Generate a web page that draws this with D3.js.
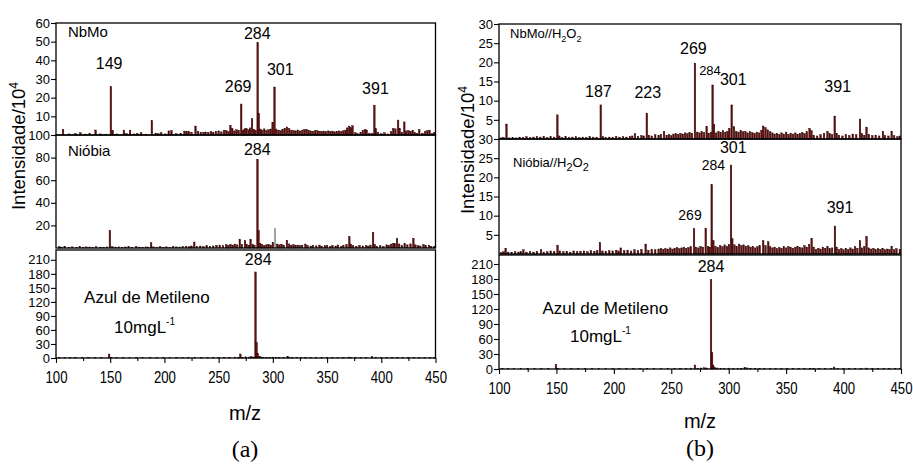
<!DOCTYPE html>
<html>
<head>
<meta charset="utf-8">
<script src="https://cdn.jsdelivr.net/npm/d3@7/dist/d3.min.js"></script>
<style>
  body { margin: 0; background: #fff; }
  text { font-family: "Liberation Sans", Arial, sans-serif; fill: #000; }
  .axis path { display: none; }
  .axis line { stroke: #000; stroke-width: 1.1; }
</style>
</head>
<body>
<div id="chart"></div>
<script>
// ---- data: [m/z, intensity] ----
var nbmoPeaks = [[106.5,3],[112,0.6],[118,0.8],[122.5,1.2],[127,0.5],[131,0.7],[136.5,2.7],[141,0.6],[146,0.5],[150.6,26],[152.3,2.3],[156,0.6],[162.6,2.6],[165,0.8],[168.3,2.6],[172,0.6],[175,0.8],[178.5,1.2],[183,0.5],[188.4,7.8],[192,1],[194.5,0.7],[197,1.2],[201,0.6],[204,2.2],[206.5,2.4],[211,0.7],[215,0.9],[218.5,2.1],[220.5,2],[222.5,1.8],[225,1.5],[228.7,4.8],[231,2],[233.5,1.3],[236,1.5],[238,1.6],[240.5,1.4],[243,1.8],[245,1.5],[247.5,1.9],[250,2.2],[252.5,1.7],[255,2.6],[257,2.4],[259,1.8],[260.8,5.2],[262.5,3.6],[264.5,2.2],[266.5,2.8],[268.5,2.4],[270.8,16.6],[272.5,2.5],[274,3.3],[275.5,3.6],[277.5,2.8],[279,3.8],[280.8,8.7],[282.5,3],[284,2.6],[286,49.4],[287,11.6],[288.5,3.2],[290,2.6],[292,3.3],[294,2.4],[296,2.8],[298,3.2],[299.8,6.8],[301.5,25.7],[303,3.2],[305,2.6],[307,2.3],[309,2.8],[311,3.6],[313,4.3],[315,3.5],[317,2.6],[319,2.4],[321,2.2],[323,2.7],[325,2.2],[327,2.6],[329,2.9],[331,3.1],[333,2.5],[335,2.2],[337,2],[339,2.5],[341,2.3],[343,2],[345,1.9],[347,2.1],[349,1.8],[351,2.2],[353,1.9],[355,2.1],[357,1.7],[359,2],[361,2.2],[363,1.8],[365,2.3],[367,2.6],[368.5,3.8],[370.3,4.8],[372,3.9],[373.5,5],[376,1.2],[378,0.8],[381,1.5],[383,2.6],[385,3],[386.5,2.7],[389,1],[391.5,0.8],[393.6,16],[395,3.4],[397,1.5],[400,0.7],[403,1.2],[406,0.6],[409,1.8],[411,3.5],[413,3.3],[415.5,8],[417,3.5],[419,1.5],[421.2,7],[423,2.2],[425,2.4],[427,2],[429,2.5],[431,1.3],[433,0.9],[435,3],[438,1],[440.5,2],[442.5,2.3],[444.5,2.6],[447,0.8],[449,1.5]];

var niobiaPeaks = [[103,1.2],[105,0.8],[108,1.5],[112,0.7],[115,1],[119,0.6],[122,1.3],[125,0.8],[128,1],[131,0.9],[134,0.7],[137,1.1],[141,0.8],[144,0.6],[147,1],[149.7,15.6],[152,1.2],[155,0.8],[158,1],[161,0.7],[164,0.9],[167,1.1],[170,0.6],[174,1.4],[177,0.8],[180,0.7],[183,1],[185,0.8],[187.7,4.7],[190,1],[193,0.8],[196,1.2],[199,0.6],[202,1],[205,0.8],[208,1.4],[211,1],[214,0.9],[217,1.2],[220,1.6],[223,1.1],[225,1.8],[227.5,5.3],[230,1.4],[233,1.7],[236,1.2],[239,2],[242,1.5],[245,1.8],[248,2.4],[251,2.6],[254,2],[257,3],[259,2.4],[261,3.2],[263,2.6],[265,3.5],[267,2.8],[269.5,7.7],[271.5,3],[274.3,6.6],[276,3.2],[278,2.5],[279.5,7.3],[281.5,3],[283,2.5],[285.8,78.5],[286.8,15.6],[288.3,4.2],[290,3],[292,2.2],[294,2.8],[296,3.3],[298,2.6],[300,5],[304,3.5],[306,2.8],[308,3.4],[310,2.5],[313,6.8],[315,3.6],[317,2.4],[319,3],[321,2],[323,2.6],[325,2.2],[327,2.5],[330,3.5],[332,2.2],[335,1.8],[337,2.4],[340,1.9],[343,2.6],[345,1.6],[348,2],[350,2.4],[353,1.5],[355,2.2],[358,1.8],[360,2.7],[363,1.4],[365,2.5],[368,3],[370.5,10.2],[372,3.5],[374,2.2],[377,1.6],[380,2.4],[383,1.8],[386,2.2],[388,1.7],[390,2.6],[392.4,14],[394,3],[396,1.5],[399,2.2],[402,1.3],[405,2.8],[407,2.4],[409,3.5],[411,4],[412.5,3.8],[414.5,8.4],[416.5,3.6],[419,2.2],[421.6,4],[424,2.8],[427,3.6],[429.6,8.6],[431.5,2.8],[434,2],[436,1.8],[439,3],[441,2],[444,2.6],[446,1.5],[449,1.6]];
var niobiaGrey = [[302,17.6]];

var azulPeaksA = [[103,0.8],[108,1.2],[113,0.6],[118,0.9],[124,0.7],[130,1],[136,0.6],[142,0.8],[149,8.5],[151,1.5],[156,0.7],[162,0.9],[168,0.6],[174,1],[180,0.7],[187,1.3],[193,0.6],[199,0.9],[205,0.7],[211,1],[217,0.8],[222,1.2],[228,1.4],[234,0.9],[240,1.1],[245,1.3],[250,1],[255,1.6],[260,1.4],[265,2],[268,1.5],[270,8.5],[272,1.8],[275,2.5],[278,2],[280,3],[282,2.2],[284,184],[285,33],[286,10],[287.5,4],[289,2.5],[291,1.8],[294,1.5],[297,1.3],[300,2],[303,1.6],[306,1.2],[310,1.5],[313.6,3.2],[315,2],[318,1.2],[322,1],[326,1.4],[330,1.1],[335,0.9],[340,1.2],[345,0.8],[350,1],[355,1.1],[360,0.8],[365,1],[370,2],[372,1.5],[376,0.9],[381,0.8],[386,1.1],[391.5,3],[395,1],[400,0.8],[405,1],[410,0.9],[415,1.3],[420,1.2],[425,0.8],[430,1.4],[435,0.7],[440,1],[445,0.8],[449,0.9]];

var nbmoH2O2Peaks = [[102,0.3],[104,0.4],[106.5,3.9],[109,0.3],[112,0.4],[115,0.3],[118,0.5],[121,0.4],[124,0.6],[127,0.4],[130,0.5],[133,0.6],[136,0.5],[139,0.7],[142,0.4],[145,0.6],[148,0.5],[150.8,6.3],[152.5,0.8],[155,0.4],[158,0.6],[161,0.4],[164,0.5],[167,0.6],[170,0.4],[173,0.5],[176,0.4],[179,0.6],[182,0.5],[185,0.4],[188.6,8.9],[190.5,0.6],[193,0.4],[196,0.5],[199,0.4],[202,0.7],[205,0.5],[208,0.6],[211,0.5],[214,0.7],[216,0.8],[218.4,1.4],[221,0.7],[224,0.9],[226,0.8],[228.7,6.7],[230.5,1],[233,0.8],[236,1.1],[239,0.9],[241,1.2],[243.7,2],[246,1],[248,1.2],[250,0.9],[252,1.3],[254,1.4],[256,1.2],[258,1.5],[260,1.3],[262,1.6],[264,1.4],[266,1.7],[268,1.5],[270.6,19.8],[272.5,1.8],[274.5,1.6],[276.5,1.9],[278.5,1.7],[280.8,3.3],[282.5,1.5],[284.5,1.8],[286,14.1],[287.2,3.8],[289,1.6],[291,2],[293,1.7],[295,2.2],[297,1.8],[299,2],[300.5,2.8],[302.6,8.9],[304.6,3.2],[306.5,2],[308.5,1.8],[310.5,2.2],[312.5,1.9],[314.5,2],[316.5,1.6],[318.5,1.9],[320.5,1.7],[322.5,1.5],[324.5,1.8],[326.5,1.6],[328.5,2.3],[330,3.4],[332,3],[334,2.4],[336,1.9],[338,1.6],[340,1.3],[342,1.5],[344,1.2],[346,1.6],[348,1.3],[350,1.8],[352,1.2],[354,1.5],[356,1.3],[358,1.6],[360,1.2],[362,1.5],[364,1.7],[366,1.4],[368,1.9],[370.4,2.8],[372,2.2],[374,1],[377,0.8],[380,1.1],[383,1.5],[386,2],[388,1.4],[390,1.2],[392.3,6],[394,1.5],[396,1],[399,0.8],[402,1.1],[405,0.9],[408,1.3],[411,1.1],[414.3,5.2],[416,1.4],[418,1],[420,3.1],[422,1.2],[425,0.9],[428,1],[431,0.8],[434.3,2],[436,0.9],[439,0.8],[441.9,2],[444,0.9],[447,0.6],[449,0.8]];

var niobiaH2O2Peaks = [[102,0.4],[104,0.6],[105.8,1.5],[108,0.5],[111,0.4],[114,0.6],[117,0.5],[119,0.6],[121.2,1.1],[124,0.5],[127,0.6],[130,0.5],[133,0.7],[136.6,1.1],[139,0.5],[142,0.6],[145,0.8],[148,0.7],[151,2.3],[153,0.8],[156,0.6],[159,0.7],[162,0.5],[165,0.8],[168,0.6],[171,0.7],[174,0.8],[177,0.6],[180,0.9],[183,0.7],[185.5,0.9],[187.9,3],[190,0.8],[193,0.7],[196,0.9],[199,0.8],[202,1],[204,0.8],[206,1.6],[209,0.9],[212,1],[215,0.8],[218,1.1],[221,0.9],[224,1.2],[227.7,2.6],[230,1],[233,1.2],[236,1.1],[239,1.3],[241,1.5],[243,1.2],[245,1.4],[247,1.3],[249,1.6],[251,1.3],[253,1.5],[255,1.7],[257,1.4],[259,1.6],[261,1.8],[263,1.5],[265,1.7],[267,1.9],[269.8,6.6],[271.5,1.8],[273.5,1.6],[275.5,2],[277.5,1.8],[280,6.7],[282,2],[283.5,1.8],[285.2,18.1],[286.6,3.5],[288.5,2],[290.5,1.7],[292.5,2.2],[294.5,1.9],[296.5,2.4],[298.5,2],[300.2,2.5],[302,23.2],[303.1,4],[305,2.4],[307,2],[309,2.6],[311,2.2],[313,2.4],[315,2],[317,2.2],[319,1.8],[321,2],[323,1.6],[325,1.9],[327,2.2],[330,3.5],[332,2.2],[334.4,3.2],[336,1.9],[338,1.6],[340,1.8],[342,1.4],[344,1.7],[346,1.5],[348,1.9],[350,1.6],[352,2],[354,1.7],[356,1.5],[358,1.8],[360,2],[362,1.7],[364,1.6],[366,2.2],[368,1.8],[370,2.5],[372.2,4.1],[374,1.8],[376,1.2],[378,1.5],[380,1.3],[382,1.8],[384,1.5],[386,2],[388,1.4],[390,1.6],[392.5,7.3],[394,1.8],[396,1.2],[398,1.4],[400,1.1],[402,1.5],[404,1.2],[406,1.6],[408,1.3],[410,1.9],[412,1.5],[414.3,3.5],[416,1.6],[418,2],[420,4.6],[422,1.6],[424,1.3],[426,1.5],[428,1.1],[430,1.4],[432,1.2],[434,1.5],[436,1.1],[438,1.3],[440,1.2],[441.9,2],[444,1.1],[446,1.4],[449,1.2]];

var azulPeaksB = [[103,0.8],[108,1],[113,0.6],[119,0.9],[125,0.7],[131,0.8],[137,0.6],[143,0.9],[149.6,9.3],[151.5,1.5],[157,0.7],[163,0.8],[169,0.6],[175,0.9],[181,0.7],[187,1],[193,0.6],[199,0.8],[205,0.7],[211,0.9],[217,0.8],[223,1],[229,1.2],[235,0.9],[241,1],[247,1.2],[253,1.1],[258,1.4],[263,1.6],[267,1.8],[270.6,8],[273,1.6],[276,2],[279,2.4],[281,2],[284.6,179],[285.5,32.7],[286.5,8],[288,3],[290,2],[293,1.5],[296,1.2],[300,1.8],[304,1.3],[308,1.1],[311,1.6],[314,3],[316,2.2],[319,1.3],[323,1],[327,1.2],[331,1.1],[336,0.9],[341,1.1],[346,0.8],[351,1],[356,0.9],[361,1.1],[366,0.8],[371,1.6],[374,1.2],[379,0.9],[384,1],[389,1.2],[391.7,4],[395,1],[400,0.8],[405,0.9],[410,1.1],[415,1.5],[420,1.8],[425,0.9],[430,1.1],[435,0.8],[440,1],[445,0.9],[449,0.8]];

// tick values
var xTicks = [100, 150, 200, 250, 300, 350, 400, 450];
var xMinor = [125, 175, 225, 275, 325, 375, 425];
var ticksA1 = [10, 20, 30, 40, 50, 60];
var ticksA2 = [20, 40, 60, 80, 100];
var ticksAzul = [0, 30, 60, 90, 120, 150, 180, 210];
var ticksB = [5, 10, 15, 20, 25, 30];

// peak annotations: [text, m/z, intensity (baseline), font size]
var labelsA1 = [["149",149,35.3,16],["284",285.6,51.2,16],["301",306.8,32,16],["269",268,22.8,16],["391",394.6,21.9,16]];
var labelsA2 = [["284",285.6,82.3,16]];
var labelsA3 = [["284",286.5,199,16]];
var labelsB1 = [["187",186.5,11,16],["223",229.5,10.6,16],["269",269.2,22.2,16],["284",283.7,16.7,13],["301",304,14.1,16],["391",394.9,12.35,16]];
var labelsB2 = [["301",304,26.3,16],["284",286.6,21.8,14],["269",266.3,8.75,14],["391",396.9,10.8,16]];
var labelsB3 = [["284",284.6,194.6,16]];

var svg = d3.select("#chart")
  .append("svg")
  .attr("width", 913)
  .attr("height", 465);

// x scales for the two panels
var xA = d3.scaleLinear().domain([100, 450]).range([56, 435.5]);
var xB = d3.scaleLinear().domain([100, 450]).range([499, 901]);

function drawSub(cfg) {
  var g = svg.append("g");
  var y = d3.scaleLinear().domain([0, cfg.ymax]).range([cfg.bottom, cfg.top]);
  var x = cfg.x;

  // peaks
  g.selectAll("rect.pk")
    .data(cfg.peaks)
    .enter().append("rect")
      .attr("class", "pk")
      .attr("x", function(d) { return x(d[0]) - 0.8; })
      .attr("y", function(d) { return y(d[1]); })
      .attr("width", 1.6)
      .attr("height", function(d) { return y(0) - y(d[1]); })
      .attr("fill", "#6a0c0c")
      .attr("stroke", "#1e0000")
      .attr("stroke-width", 0.4);

  if (cfg.grey) {
    g.selectAll("rect.gr")
      .data(cfg.grey)
      .enter().append("rect")
        .attr("x", function(d) { return x(d[0]) - 0.8; })
        .attr("y", function(d) { return y(d[1]); })
        .attr("width", 1.6)
        .attr("height", function(d) { return y(0) - y(d[1]); })
        .attr("fill", "#8c8c8c");
  }

  // frame
  g.append("rect")
    .attr("x", x.range()[0])
    .attr("y", cfg.top)
    .attr("width", x.range()[1] - x.range()[0])
    .attr("height", cfg.bottom - cfg.top)
    .attr("fill", "none")
    .attr("stroke", "#000")
    .attr("stroke-width", 1.3);

  var yAxis = g.append("g")
    .attr("class", "axis")
    .attr("transform", "translate(" + x.range()[0] + ",0)")
    .call(d3.axisLeft(y).tickValues(cfg.ticks).tickSize(5).tickPadding(1));
  yAxis.selectAll("text").style("font-size", "13px");

  if (cfg.xaxis) {
    var xg = g.append("g")
      .attr("class", "axis")
      .attr("transform", "translate(0," + cfg.bottom + ")")
      .call(d3.axisBottom(x).tickValues(xTicks).tickSize(5).tickPadding(9));
    xg.selectAll("text")
      .style("font-size", "16px")
      .attr("textLength", 22)
      .attr("lengthAdjust", "spacingAndGlyphs");
    g.append("g")
      .attr("class", "axis")
      .attr("transform", "translate(0," + cfg.bottom + ")")
      .call(d3.axisBottom(x).tickValues(xMinor).tickSize(3).tickFormat(""));
  }

  // peak labels
  g.selectAll("text.pl")
    .data(cfg.labels)
    .enter().append("text")
      .attr("class", "pl")
      .attr("x", function(d) { return x(d[1]); })
      .attr("y", function(d) { return y(d[2]); })
      .attr("text-anchor", "middle")
      .style("font-size", function(d) { return d[3] + "px"; })
      .text(function(d) { return d[0]; });

  // sample name
  if (cfg.title) {
    var t = g.append("text")
      .attr("x", x(cfg.title.m))
      .attr("y", y(cfg.title.v))
      .style("font-size", cfg.title.size + "px");
    cfg.title.parts.forEach(function(p) {
      var s = t.append("tspan").text(p[0]);
      if (p[1] == "sub") s.attr("dy", 4).style("font-size", cfg.title.sub + "px");
      if (p[1] == "up") s.attr("dy", -4);
    });
  }
  if (cfg.azul) {
    g.append("text")
      .attr("x", x(cfg.azul.m1))
      .attr("y", y(cfg.azul.v1))
      .style("font-size", "17px")
      .text("Azul de Metileno");
    var c = g.append("text")
      .attr("x", x(cfg.azul.m2))
      .attr("y", y(cfg.azul.v2))
      .style("font-size", "17px");
    c.append("tspan").text("10mgL");
    c.append("tspan").attr("dy", -8).style("font-size", "10px").text("-1");
  }
  return y;
}

// panel (a)
drawSub({x: xA, top: 23, bottom: 135, ymax: 60, ticks: ticksA1, peaks: nbmoPeaks, labels: labelsA1,
  title: {m: 111, v: 52.4, size: 15, parts: [["NbMo", ""]]}});
drawSub({x: xA, top: 135, bottom: 248, ymax: 100, ticks: ticksA2, peaks: niobiaPeaks, grey: niobiaGrey, labels: labelsA2,
  title: {m: 111, v: 81.4, size: 15, parts: [["Nióbia", ""]]}});
drawSub({x: xA, top: 250, bottom: 358, ymax: 231, ticks: ticksAzul, peaks: azulPeaksA, labels: labelsA3, xaxis: true,
  azul: {m1: 125.9, v1: 117, m2: 153.6, v2: 54}});

// panel (b)
drawSub({x: xB, top: 24, bottom: 139, ymax: 30, ticks: ticksB, peaks: nbmoH2O2Peaks, labels: labelsB1,
  title: {m: 109.6, v: 26.4, size: 13, sub: 9, parts: [["NbMo//H", ""], ["2", "sub"], ["O", "up"], ["2", "sub"]]}});
drawSub({x: xB, top: 139, bottom: 254, ymax: 30, ticks: ticksB, peaks: niobiaH2O2Peaks, labels: labelsB2,
  title: {m: 112.2, v: 22.7, size: 13, sub: 11, parts: [["Nióbia//H", ""], ["2", "sub"], ["O", "up"], ["2", "sub"]]}});
drawSub({x: xB, top: 255, bottom: 369, ymax: 228, ticks: ticksAzul, peaks: azulPeaksB, labels: labelsB3, xaxis: true,
  azul: {m1: 137.8, v1: 110, m2: 161.8, v2: 54.6}});

// axis titles
function yTitle(x, y) {
  var t = svg.append("text")
    .attr("transform", "translate(" + x + "," + y + ") rotate(-90)")
    .attr("text-anchor", "middle")
    .style("font-size", "18.5px");
  t.append("tspan").text("Intensidade/10");
  t.append("tspan").attr("dy", -7).style("font-size", "12px").text("4");
}
yTitle(25, 146);
yTitle(474, 150);

svg.append("text").attr("x", 245).attr("y", 420).attr("text-anchor", "middle")
  .style("font-size", "20px").text("m/z");
svg.append("text").attr("x", 700).attr("y", 428).attr("text-anchor", "middle")
  .style("font-size", "20px").text("m/z");

svg.append("text").attr("x", 245).attr("y", 457).attr("text-anchor", "middle")
  .style("font-family", "'Liberation Serif', 'Times New Roman', serif").style("font-size", "24px").text("(a)");
svg.append("text").attr("x", 700).attr("y", 456).attr("text-anchor", "middle")
  .style("font-family", "'Liberation Serif', 'Times New Roman', serif").style("font-size", "24px").text("(b)");
</script>
</body>
</html>
